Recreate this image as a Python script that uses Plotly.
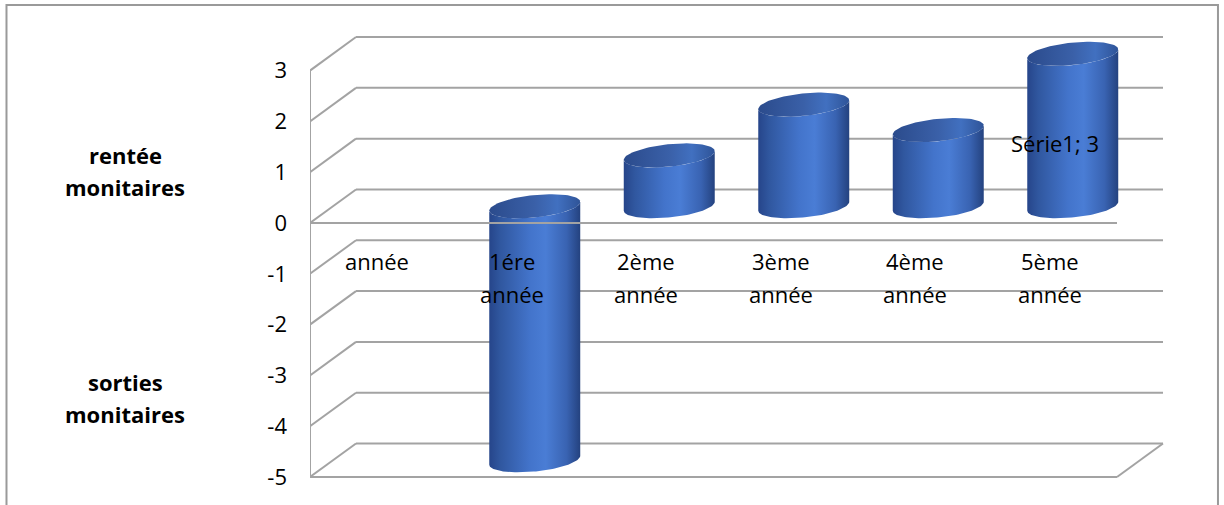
import numpy as np
import plotly.graph_objects as go

# Category labels (two-line) and values of the single series
categories = ["année", "1ére\nannée", "2ème\nannée", "3ème\nannée", "4ème\nannée", "5ème\nannée"]
values = [0, -5, 1, 2, 1.5, 3]
series_name = "Série1"
tick_values = [-5, -4, -3, -2, -1, 0, 1, 2, 3]
side_titles = [("rentée", "monitaires"), ("sorties", "monitaires")]
side_title_levels = [1.02, -3.45]

FONT = "Open Sans"
GRID = "#a3a3a3"

# Oblique 3D projection: depth vector (in data units) from the front plane to the back wall
DEPTH_X = 0.342
DEPTH_Y = 0.66
X_MIN, X_MAX = -0.5, len(categories) - 0.5
Y_RANGE = [-5.157, 3.799]

# Cylinder geometry (data units)
RADIUS_X = 0.315          # half-width of the circle seen face on
DEPTH_FRAC = 0.36         # circle radius as a fraction of the wall depth
BODY_DEPTH = 0.5          # cylinders sit halfway between front and back

fig = go.Figure()
shapes = []


def line(x0, y0, x1, y1, layer="below", color=GRID, width=2):
    shapes.append(dict(type="line", xref="x", yref="y", x0=x0, y0=y0, x1=x1, y1=y1,
                       line=dict(color=color, width=width), layer=layer))


# Back wall gridlines and left side wall diagonals
for v in tick_values:
    line(X_MIN + DEPTH_X, v + DEPTH_Y, X_MAX + DEPTH_X, v + DEPTH_Y)
    line(X_MIN, v, X_MIN + DEPTH_X, v + DEPTH_Y)

# Front vertical axis line
line(X_MIN, min(tick_values), X_MIN, max(tick_values))
# Floor front edge and right diagonal
line(X_MIN, min(tick_values), X_MAX, min(tick_values))
line(X_MAX, min(tick_values), X_MAX + DEPTH_X, min(tick_values) + DEPTH_Y)


def ellipse(cx, cy, theta):
    sx = DEPTH_FRAC * DEPTH_X
    sy = DEPTH_FRAC * DEPTH_Y
    return cx + RADIUS_X * np.cos(theta) + sx * np.sin(theta), cy + sy * np.sin(theta)


theta_r = np.arctan2(DEPTH_FRAC * DEPTH_X, RADIUS_X)
body_scale = [[0.0, "#26458a"], [0.12, "#30579f"], [0.45, "#4374cb"],
              [0.62, "#4a7dd5"], [0.85, "#3963b2"], [1.0, "#24427f"]]
cap_scale = [[0.0, "#2b4b8c"], [0.5, "#3a60a8"], [0.75, "#4170c0"], [1.0, "#2f5498"]]

for i, v in enumerate(values):
    if v == 0:
        continue
    cx = i + BODY_DEPTH * DEPTH_X
    top = max(v, 0) + BODY_DEPTH * DEPTH_Y
    bot = min(v, 0) + BODY_DEPTH * DEPTH_Y
    front = np.linspace(theta_r, theta_r - np.pi, 60)
    xt, yt = ellipse(cx, top, front)
    xb, yb = ellipse(cx, bot, front[::-1])
    bx = np.concatenate([xt, xb, xt[:1]])
    by = np.concatenate([yt, yb, yt[:1]])
    fig.add_trace(go.Scatter(x=bx, y=by, mode="lines", fill="toself",
                             line=dict(width=0, color="#3560ad"),
                             fillgradient=dict(type="horizontal", colorscale=body_scale),
                             hoverinfo="skip", showlegend=False))
    full = np.linspace(0, 2 * np.pi, 90)
    xc, yc = ellipse(cx, top, full)
    fig.add_trace(go.Scatter(x=xc, y=yc, mode="lines", fill="toself",
                             line=dict(width=0, color="#3a60a8"),
                             fillgradient=dict(type="horizontal", colorscale=cap_scale),
                             hoverinfo="skip", showlegend=False))

# Horizontal axis line at zero, drawn over the cylinders
line(X_MIN, 0, X_MAX, 0, layer="above")

annotations = []
# Category labels, one annotation per line
for i, cat in enumerate(categories):
    for k, part in enumerate(cat.split("\n")):
        annotations.append(dict(x=i, y=-0.74 - 0.65 * k, xref="x", yref="y", text=part,
                                showarrow=False, font=dict(family=FONT, size=22, color="black"),
                                xanchor="center", yanchor="middle"))

# Side titles
for (l1, l2), lvl in zip(side_titles, side_title_levels):
    for k, part in enumerate((l1, l2)):
        annotations.append(dict(x=-0.2166, y=lvl + 0.32 - 0.63 * k, xref="paper", yref="y",
                                text=f"<b>{part}</b>", showarrow=False,
                                font=dict(family=FONT, size=22, color="black"),
                                xanchor="center", yanchor="middle"))

# Data label on the last bar
last = len(values) - 1
annotations.append(dict(x=last + 0.04, y=values[last] * 0.525, xref="x", yref="y",
                        text=f"{series_name}; {values[last]:g}", showarrow=False,
                        font=dict(family=FONT, size=22, color="black"),
                        xanchor="center", yanchor="middle"))

# Outer chart frame
shapes.append(dict(type="path", xref="paper", yref="paper",
                   path="M -0.3554,-0.2 L -0.3554,1.055 L 1.0632,1.055 L 1.0632,-0.2",
                   line=dict(color="#9a9a9a", width=2), layer="above"))

fig.update_layout(
    width=1224, height=505,
    margin=dict(l=310, r=60, t=30, b=20),
    paper_bgcolor="white", plot_bgcolor="white",
    xaxis=dict(range=[X_MIN, X_MIN + 854 / 134.5], visible=False, fixedrange=True),
    yaxis=dict(range=Y_RANGE, tickvals=tick_values, ticktext=[str(t) for t in tick_values],
               showgrid=False, zeroline=False, showline=False, ticks="",
               ticklabelstandoff=22, tickfont=dict(family=FONT, size=22, color="black"),
               fixedrange=True),
    shapes=shapes,
    annotations=annotations,
    showlegend=False,
)

fig.write_html("out.html")
